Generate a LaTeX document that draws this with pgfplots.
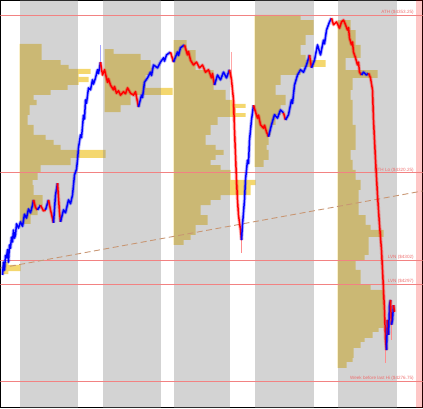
\documentclass[border=0pt]{standalone}
\usepackage{fontspec}
\setmainfont{Liberation Sans}
\usepackage{pgfplots}
\pgfplotsset{compat=1.18}
\definecolor{vpyellow}{RGB}{244,215,110}
\definecolor{bandgray}{RGB}{128,128,128}
\definecolor{lvlred}{RGB}{242,130,130}
\definecolor{lvltext}{RGB}{238,110,110}
\definecolor{trendbrown}{RGB}{200,150,115}
\tikzset{
  up/.style={blue, line width=1.5pt, line join=round,
    preaction={draw, blue, draw opacity=0.3, line width=3.4pt}},
  dn/.style={red, line width=1.5pt, line join=round,
    preaction={draw, red, draw opacity=0.3, line width=3.4pt}},
  prof/.style={const plot, fill=vpyellow, draw=none},
  band/.style={fill=bandgray, fill opacity=0.346, draw=none},
  lvl/.style={lvlred, line width=0.8pt},
  lbl/.style={anchor=south east, inner sep=0.6pt, text=lvltext, font=\fontsize{4.6}{4.6}\selectfont},
}
\begin{document}
\begin{tikzpicture}
\begin{axis}[
    scale only axis,
    width=422pt, height=407pt,
    xmin=0, xmax=422,
    ymin=4271.2, ymax=4356.28,
    ticks=none,
    axis line style={black, line width=1pt},
]
% volume profiles (drawn under the session shading)
\addplot[prof] coordinates {(2,4301.6) (8,4301.0) (20,4299.7) (8,4299.1) (2,4299.1)};
\addplot[prof] coordinates {(19,4347.19) (41,4343.84) (60,4342.80) (68,4341.96) (90,4340.92) (78,4340.29) (88,4339.24) (78,4338.62) (67,4337.57) (50,4336.53) (33,4335.48) (36,4334.43) (29,4332.35) (27,4330.26) (33,4328.17) (45,4327.12) (53,4326.08) (60,4325.03) (105,4323.36) (70,4321.89) (40,4320.22) (37,4318.76) (32,4317.71) (33,4315.62) (42,4313.53) (37,4311.44) (30,4309.56) (19,4309.56)};
\addplot[prof] coordinates {(104,4346.14) (113,4345.10) (140,4343.84) (150,4342.17) (152,4340.71) (145,4337.99) (172,4336.53) (130,4334.43) (120,4332.97) (104,4332.97)};
\addplot[prof] coordinates {(173,4348.02) (186,4345.93) (195,4341.75) (213,4337.57) (225,4335.48) (232,4334.65) (245,4333.81) (235,4332.76) (245,4331.93) (217,4330.26) (210,4328.17) (205,4326.08) (215,4325.03) (223,4323.99) (215,4322.94) (210,4321.89) (220,4320.85) (230,4318.76) (255,4317.71) (250,4315.62) (220,4314.58) (210,4313.53) (200,4311.44) (207,4309.35) (195,4307.26) (190,4306.22) (183,4305.17) (173,4305.17)};
\addplot[prof] coordinates {(254,4353.25) (300,4352.20) (313,4349.07) (305,4346.98) (300,4344.89) (305,4343.84) (325,4342.38) (300,4340.71) (280,4338.62) (275,4336.53) (285,4334.43) (280,4332.35) (275,4330.26) (270,4328.17) (268,4326.08) (266,4325.03) (268,4322.94) (263,4321.48) (254,4321.48)};
\addplot[prof] coordinates {(337,4352.20) (350,4350.11) (355,4346.98) (360,4344.26) (345,4341.75) (377,4340.08) (352,4337.57) (350,4335.48) (352,4330.26) (355,4325.03) (350,4322.94) (352,4320.85) (355,4318.76) (360,4316.67) (358,4311.44) (365,4309.35) (370,4308.31) (383,4306.85) (368,4303.08) (364,4302.04) (355,4299.95) (360,4296.81) (370,4295.77) (383,4287.82) (378,4286.99) (372,4285.73) (364,4284.90) (360,4283.64) (353,4281.55) (352,4280.72) (346,4279.46) (337,4279.46)};
% session shading
\addplot[band] coordinates {(19,4271.2) (77,4271.2) (77,4356.3) (19,4356.3)} -- cycle;
\addplot[band] coordinates {(102,4271.2) (160,4271.2) (160,4356.3) (102,4356.3)} -- cycle;
\addplot[band] coordinates {(173,4271.2) (229,4271.2) (229,4356.3) (173,4356.3)} -- cycle;
\addplot[band] coordinates {(254,4271.2) (313,4271.2) (313,4356.3) (254,4356.3)} -- cycle;
\addplot[band] coordinates {(337,4271.2) (396,4271.2) (396,4356.3) (337,4356.3)} -- cycle;
\addplot[fill=red, fill opacity=0.22, draw=none] coordinates {(415,4271.2) (422,4271.2) (422,4356.3) (415,4356.3)} -- cycle;
% key levels
\addplot[lvl] coordinates {(0,4353.25) (422,4353.25)};
\addplot[lvl] coordinates {(0,4320.25) (422,4320.25)};
\addplot[lvl] coordinates {(0,4302) (422,4302)};
\addplot[lvl] coordinates {(0,4297) (422,4297)};
\addplot[lvl] coordinates {(0,4276.75) (422,4276.75)};
\node[lbl] at (axis cs:414,4353.25) {ATH (\$4353.25)};
\node[lbl] at (axis cs:414,4320.25) {RTH Lo (\$4320.25)};
\node[lbl] at (axis cs:414,4302) {LVN (\$4302)};
\node[lbl] at (axis cs:414,4297) {LVN (\$4297)};
\node[lbl] at (axis cs:414,4276.75) {Week before last Hi (\$4276.75)};
% trend line
\addplot[trendbrown, line width=0.9pt, dash pattern=on 6pt off 3.5pt] coordinates {(0,4300.36) (422,4316.46)};
% wicks
\addplot[blue!35, line width=0.6pt] coordinates {(100,4343.4) (100,4347.0)};
\addplot[red!35, line width=0.6pt] coordinates {(231,4345.5) (231,4339.7)};
\addplot[red!45, line width=0.6pt] coordinates {(241,4306.2) (241,4303.5)};
\addplot[red!45, line width=0.6pt] coordinates {(385,4285.3) (385,4280.5)};
\addplot[red!45, line width=0.6pt] coordinates {(391,4288.5) (391,4285.3)};
% price
\addplot[up] coordinates {(2,4298.9) (3,4301.6) (4,4299.9) (5,4303.0) (6,4302.5) (7,4304.2) (8,4301.6) (9,4305.2) (10,4304.5) (11,4306.8) (12,4305.8) (13,4308.3) (14,4306.6) (15,4307.3) (16,4309.6) (18,4308.7) (20,4310.0) (22,4309.1) (24,4311.6) (26,4310.8) (28,4312.7) (30,4311.9) (32,4313.5) (33,4314.6)};
\addplot[dn] coordinates {(33,4314.6) (35,4313.0) (37,4312.5)};
\addplot[up] coordinates {(37,4312.5) (40,4313.5)};
\addplot[dn] coordinates {(40,4313.5) (43,4312.3) (45,4312.5)};
\addplot[up] coordinates {(45,4312.5) (48,4314.6)};
\addplot[dn] coordinates {(48,4314.6) (50,4312.5) (53,4309.8)};
\addplot[up] coordinates {(53,4309.8) (55,4315.6) (57,4318.1)};
\addplot[dn] coordinates {(57,4318.1) (59,4312.0) (60,4310.0)};
\addplot[up] coordinates {(60,4310.0) (63,4312.5) (65,4311.9) (68,4314.6) (70,4313.8) (72,4315.6) (74,4319.8) (76,4321.0) (77,4322.9) (78,4325.5) (80,4328.2) (81,4327.6) (83,4332.3) (84,4331.5) (85,4335.5) (86,4334.8) (88,4338.0) (90,4337.6) (92,4339.7) (93,4338.8) (95,4340.1) (97,4341.8) (98,4341.0) (100,4343.4)};
\addplot[dn] coordinates {(100,4343.4) (102,4340.7) (104,4341.8) (107,4339.2) (108,4339.9) (110,4338.6) (113,4337.6) (114,4338.3) (116,4336.9) (118,4337.4) (120,4336.5) (123,4337.2) (125,4336.8) (127,4338.0) (130,4336.9) (133,4336.5) (135,4337.2) (138,4334.0)};
\addplot[up] coordinates {(138,4334.0) (141,4336.5) (142,4336.0) (144,4339.2) (147,4340.1) (150,4341.3) (151,4340.6) (153,4342.8) (157,4342.2) (160,4343.4) (163,4344.3) (164,4343.6) (166,4344.9) (170,4345.5)};
\addplot[dn] coordinates {(170,4345.5) (173,4343.4)};
\addplot[up] coordinates {(173,4343.4) (177,4345.5) (178,4344.8) (180,4346.4) (184,4347.0)};
\addplot[dn] coordinates {(184,4347.0) (187,4344.9) (188,4345.6) (190,4343.8) (193,4342.8) (196,4343.4) (199,4342.2) (202,4342.8) (205,4341.3) (208,4341.8) (211,4340.1) (212,4341.0) (214,4338.6)};
\addplot[up] coordinates {(214,4338.6) (217,4340.7) (220,4339.7) (223,4341.3) (226,4340.1) (229,4341.8)};
\addplot[dn] coordinates {(229,4341.8) (231,4339.7) (233,4335.5) (234,4329.2) (235,4324.0) (236,4318.8) (237,4314.6) (238,4311.4) (240,4308.3) (241,4306.2)};
\addplot[up] coordinates {(241,4306.2) (242,4309.4) (244,4314.6) (245,4318.8) (247,4322.9) (248,4322.2) (249,4327.1) (251,4331.3) (253,4334.4)};
\addplot[dn] coordinates {(253,4334.4) (255,4333.0) (257,4331.7) (258,4332.3) (260,4330.3) (263,4329.6) (264,4330.2) (266,4328.8) (268,4327.8)};
\addplot[up] coordinates {(268,4327.8) (271,4330.3) (274,4332.4) (277,4331.7) (280,4333.4) (283,4332.8)};
\addplot[dn] coordinates {(283,4332.8) (285,4331.3)};
\addplot[up] coordinates {(285,4331.3) (288,4332.4) (291,4335.5) (292,4334.8) (294,4338.6) (297,4340.7) (300,4341.8) (303,4341.3) (306,4342.8) (309,4344.9)};
\addplot[dn] coordinates {(309,4344.9) (311,4342.2)};
\addplot[up] coordinates {(311,4342.2) (314,4343.8) (317,4347.0) (320,4344.9) (323,4348.0) (324,4347.2) (326,4350.1) (329,4351.8) (331,4352.6)};
\addplot[dn] coordinates {(331,4352.6) (333,4351.2) (336,4351.8) (339,4350.5) (341,4351.8) (343,4352.2) (345,4351.2) (347,4350.1) (348,4350.6) (349,4348.4) (351,4347.0) (352,4347.6) (353,4345.5) (355,4344.3) (357,4342.8) (358,4343.4) (359,4341.3) (361,4340.7)};
\addplot[up] coordinates {(361,4340.7) (363,4341.3) (366,4340.7) (368,4341.1)};
\addplot[dn] coordinates {(368,4341.1) (370,4340.1) (372,4337.6) (373,4331.3) (375,4323.0) (377,4315.6) (379,4309.4) (381,4304.1) (382,4300.0) (383,4295.8) (384,4291.6) (385,4285.3) (386,4283.2)};
\addplot[up] coordinates {(386,4283.2) (387,4289.5)};
\addplot[dn] coordinates {(387,4289.5) (388,4286.4)};
\addplot[up] coordinates {(388,4286.4) (389,4292.6) (390,4293.7)};
\addplot[dn] coordinates {(390,4293.7) (391,4288.5)};
\addplot[up] coordinates {(391,4288.5) (392,4289.5) (393,4292.6)};
\addplot[dn] coordinates {(393,4292.6) (394,4291.2)};
\end{axis}
\end{tikzpicture}
\end{document}
